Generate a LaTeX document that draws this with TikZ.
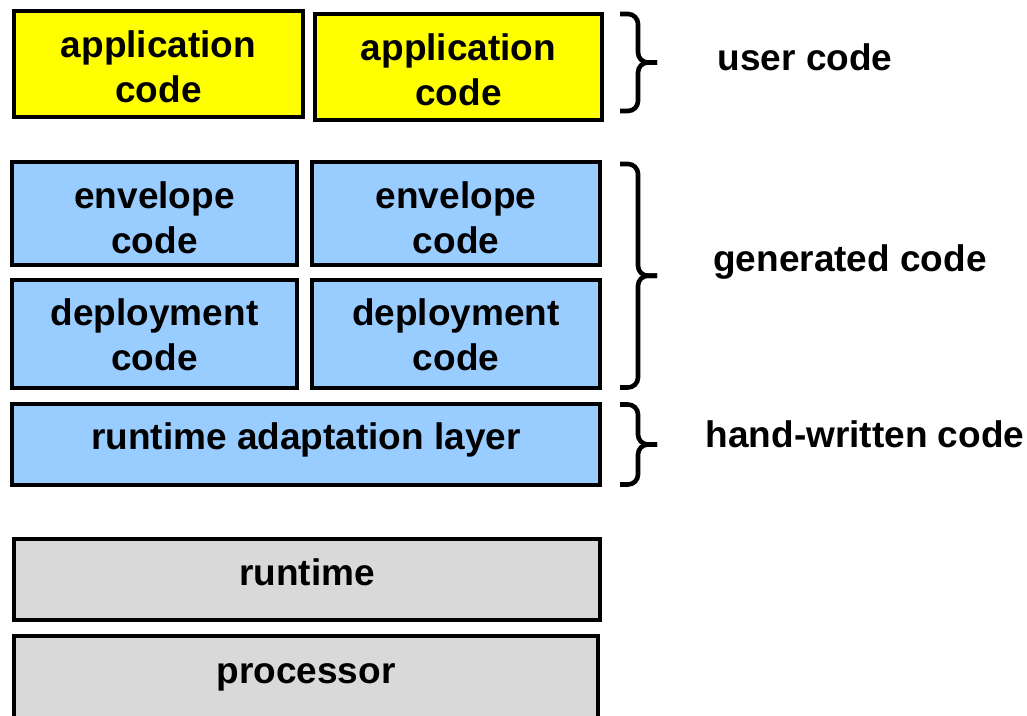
\documentclass[tikz,border=0pt]{standalone}
\usepackage{fontspec}
\setmainfont{Liberation Sans}

\definecolor{usercolor}{RGB}{255,255,0}
\definecolor{gencolor}{RGB}{153,204,255}
\definecolor{platcolor}{RGB}{217,217,217}

\providecommand{\layerfont}{\fontsize{18.5}{22.5}\selectfont\bfseries}

\tikzset{
    layer/.style={draw,line width=2pt,inner sep=0,align=center,font=\layerfont},
    userlayer/.style={layer,fill=usercolor,minimum height=53pt,text height=39pt},
    genlayer/.style={layer,fill=gencolor},
    platlayer/.style={layer,fill=platcolor,minimum height=40.5pt},
    bracepen/.style={line width=2.3pt,rounded corners=5pt},
    sidelabel/.style={font=\layerfont,inner sep=0}
}

\begin{document}
\begin{tikzpicture}[x=0.5pt,y=-0.5pt]
    \clip (0,0) rectangle (1027,716);
    \useasboundingbox (0,0) rectangle (1027,716);

    % user code on top
    \node[userlayer,minimum width=144.5pt] (app1) at (158.5,64) {application\\code};
    \node[userlayer,minimum width=143.5pt] (app2) at (458.5,67) {application\\code};

    % generated code
    \node[genlayer,minimum width=142.5pt,minimum height=51.5pt,text height=40pt] (env1) at (154.5,213.5) {envelope\\code};
    \node[genlayer,minimum width=144pt,minimum height=51.5pt,text height=40pt] (env2) at (456,213.5) {envelope\\code};
    \node[genlayer,minimum width=142.5pt,minimum height=54pt,text height=37pt] (dep1) at (154.5,334) {deployment\\code};
    \node[genlayer,minimum width=144pt,minimum height=54pt,text height=37pt] (dep2) at (456,334) {deployment\\code};

    % hand-written layer
    \node[genlayer,minimum width=294pt,minimum height=40.5pt,text depth=8pt] (ral) at (306,444.5) {runtime adaptation layer};

    % platform underneath (processor runs off the bottom)
    \node[platlayer,minimum width=293pt,text depth=7pt] (rt) at (307,579.5) {runtime};
    \node[platlayer,minimum width=292pt,minimum height=41.5pt] (cpu) at (306,677.5) {processor};

    % right braces: top end, bottom end, tip halfway
    \foreach \name/\top/\bot in {user/14/111,gen/164/387.5,hand/404.5/484.5} {
        \pgfmathsetmacro{\mid}{(\top+\bot)/2}
        \coordinate (\name top) at (620,\top);
        \coordinate (\name bot) at (620,\bot);
        \coordinate (\name tip) at (657,\mid);
        \draw[bracepen] (\name top) -- ++(18,0) |- (\name tip);
        \draw[bracepen] (\name bot) -- ++(18,0) |- (\name tip);
    }

    \node[sidelabel] (userlbl) at (805,57) {user code};
    \node[sidelabel] (genlbl) at (850,262) {generated code};
    \node[sidelabel] (handlbl) at (865,434) {hand-written code};
\end{tikzpicture}
\end{document}
